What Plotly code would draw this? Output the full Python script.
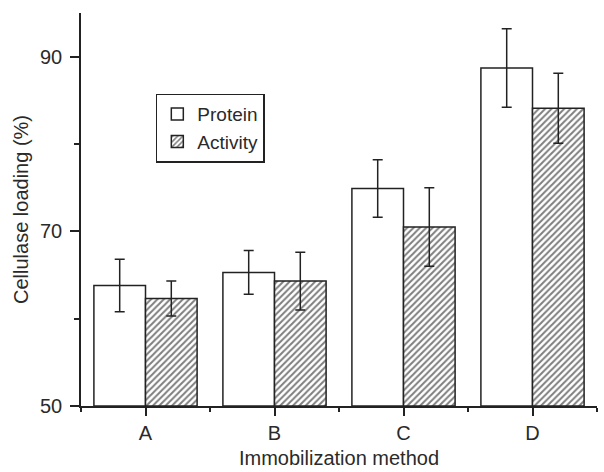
import plotly.graph_objects as go

categories = ["A", "B", "C", "D"]
protein = [63.8, 65.3, 74.9, 88.7]
protein_err = [3.0, 2.5, 3.3, 4.5]
activity = [62.3, 64.3, 70.5, 84.1]
activity_err = [2.0, 3.3, 4.5, 4.0]
series_names = ["Protein", "Activity"]

xpos = list(range(len(categories)))
line_col = "#222222"
font = dict(family="Liberation Sans, Arial, sans-serif", size=20, color="#2a2a2a")

fig = go.Figure()
fig.add_trace(go.Bar(
    x=xpos, y=[v - 50 for v in protein], base=50, name=series_names[0],
    offset=-0.4, width=0.4,
    marker=dict(color="white", line=dict(color=line_col, width=1.5)),
    error_y=dict(type="data", array=protein_err, color=line_col, thickness=1.5, width=5),
))
fig.add_trace(go.Bar(
    x=xpos, y=[v - 50 for v in activity], base=50, name=series_names[1],
    offset=0.0, width=0.4,
    marker=dict(color="white", line=dict(color=line_col, width=1.5),
                pattern=dict(shape="/", fgcolor="#000000", bgcolor="white", size=4.5, solidity=0.45)),
    error_y=dict(type="data", array=activity_err, color=line_col, thickness=1.5, width=5),
))

fig.update_layout(
    width=604, height=472,
    margin=dict(l=81, r=7, t=13, b=66),
    paper_bgcolor="white", plot_bgcolor="white",
    font=font,
    barmode="overlay",
    showlegend=True,
    legend=dict(x=0.145, y=0.795, xanchor="left", yanchor="top",
                bordercolor=line_col, borderwidth=1.5, bgcolor="white",
                font=dict(size=19), tracegroupgap=0, itemwidth=30),
    xaxis=dict(
        range=[-0.5, 3.5], tickvals=xpos, ticktext=categories,
        showline=True, linecolor=line_col, linewidth=1.5,
        ticks="outside", ticklen=8, tickwidth=1.5, tickcolor=line_col,
        tickfont=dict(size=20),
        minor=dict(tickvals=[-0.5, 0.5, 1.5, 2.5, 3.5], ticks="outside", ticklen=4, tickwidth=1.5, tickcolor=line_col),
        showgrid=False, zeroline=False,
        title=dict(text="Immobilization method", font=dict(size=20), standoff=8),
    ),
    yaxis=dict(
        range=[50, 95], tickvals=[50, 70, 90],
        showline=True, linecolor=line_col, linewidth=1.5,
        ticks="outside", ticklen=9, tickwidth=1.5, tickcolor=line_col,
        tickfont=dict(size=20), ticklabelstandoff=4,
        minor=dict(tickvals=[60, 80], ticks="outside", ticklen=5, tickwidth=1.5, tickcolor=line_col),
        showgrid=False, zeroline=False,
        title=dict(text="Cellulase loading (%)", font=dict(size=20), standoff=6),
    ),
)

fig.write_html("out.html")
